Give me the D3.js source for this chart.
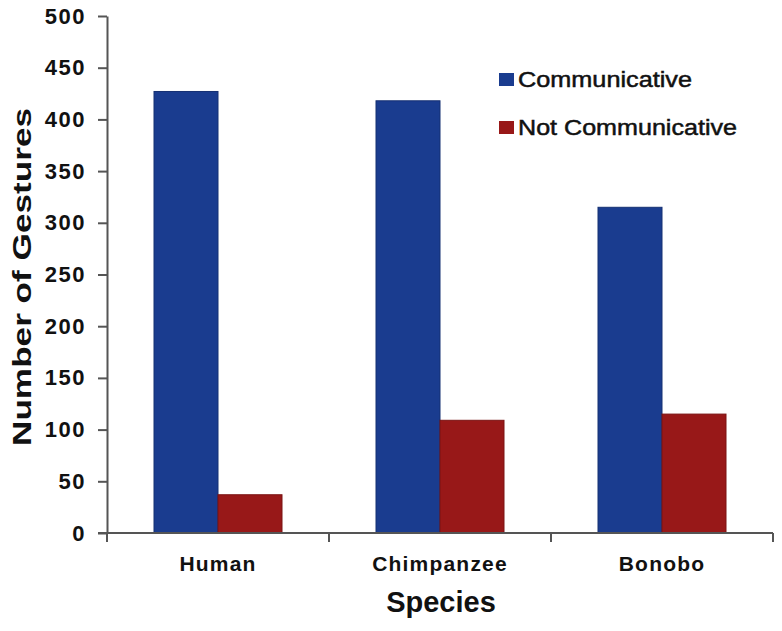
<!DOCTYPE html>
<html><head><meta charset="utf-8">
<script src="https://cdn.jsdelivr.net/npm/d3@7"></script>
<style>body{margin:0;background:#fff}</style>
</head><body>
<svg id="c" width="782" height="631"></svg>
<script>
const categories = ["Human", "Chimpanzee", "Bonobo"];
const seriesNames = ["Communicative", "Not Communicative"];
const communicative = [427, 418, 315];
const notCommunicative = [37, 109, 115];
const yTicks = [0, 50, 100, 150, 200, 250, 300, 350, 400, 450, 500];
const colors = ["#1a3c8f", "#981818"];

(function () {
const svg = d3.select("#c");
const mLeft = 107, mRight = 773, mTop = 16, mBottom = 533;
const font = "Liberation Sans, Arial, sans-serif";

const x = d3.scaleBand().domain(categories).range([mLeft, mRight]).paddingInner(0).paddingOuter(0);
const x1 = d3.scaleBand().domain(seriesNames).range([47, x.bandwidth() - 47]).padding(0);
const y = d3.scaleLinear().domain([0, 500]).range([mBottom, mTop]);

const data = categories.map((c, i) => ({cat: c, vals: [communicative[i], notCommunicative[i]]}));

// bars
const g = svg.append("g");
data.forEach(d => {
  d.vals.forEach((v, j) => {
    g.append("rect")
      .attr("x", x(d.cat) + x1(seriesNames[j]))
      .attr("y", y(v))
      .attr("width", x1.bandwidth())
      .attr("height", y(0) - y(v))
      .attr("fill", colors[j])
      .attr("stroke", d3.color(colors[j]).darker(0.6))
      .attr("stroke-width", 1);
  });
});

// y axis
const yAxis = svg.append("g").attr("transform", `translate(${mLeft},0)`)
  .call(d3.axisLeft(y).tickValues(yTicks).tickSize(9).tickPadding(12).tickSizeOuter(0));
yAxis.select(".domain").attr("stroke", "#555").attr("stroke-width", 2);
yAxis.selectAll(".tick line").attr("stroke", "#555").attr("stroke-width", 2);
yAxis.selectAll(".tick text").attr("font-family", font)
  .attr("font-size", 22).attr("font-weight", "bold").attr("fill", "#111")
  .attr("letter-spacing", "1.5px");

// x axis
const xAxisG = svg.append("g").attr("transform", `translate(0,${mBottom})`);
xAxisG.append("line").attr("x1", mLeft - 9).attr("x2", mRight).attr("y1", 0).attr("y2", 0)
  .attr("stroke", "#555").attr("stroke-width", 2);
const boundaries = categories.map(c => x(c)).concat([x(categories[categories.length - 1]) + x.bandwidth()]);
boundaries.forEach(b => {
  xAxisG.append("line").attr("x1", b).attr("x2", b).attr("y1", 0).attr("y2", 9)
    .attr("stroke", "#555").attr("stroke-width", 2);
});
categories.forEach(c => {
  xAxisG.append("text").attr("x", x(c) + x.bandwidth() / 2).attr("y", 38)
    .attr("text-anchor", "middle")
    .attr("font-family", font)
    .attr("font-size", 21).attr("font-weight", "bold").attr("fill", "#111")
    .attr("letter-spacing", "1.2px")
    .text(c);
});

// axis titles
svg.append("text").attr("x", 441).attr("y", 612).attr("text-anchor", "middle")
  .attr("font-family", font)
  .attr("font-size", 29).attr("font-weight", "bold").attr("fill", "#111")
  .text("Species");
svg.append("text").attr("transform", "translate(31,277) rotate(-90)").attr("text-anchor", "middle")
  .attr("font-family", font)
  .attr("font-size", 26).attr("font-weight", "bold").attr("fill", "#111")
  .attr("textLength", 338).attr("lengthAdjust", "spacingAndGlyphs")
  .text("Number of Gestures");

// legend
const legend = svg.append("g");
const legendLen = [174, 219];
seriesNames.forEach((s, i) => {
  const ly = 79 + i * 48;
  legend.append("rect").attr("x", 499).attr("y", ly - 6).attr("width", 15).attr("height", 13)
    .attr("fill", colors[i]);
  legend.append("text").attr("x", 518).attr("y", ly + 8)
    .attr("font-family", font)
    .attr("font-size", 22).attr("fill", "#111")
    .attr("stroke", "#111").attr("stroke-width", 0.5)
    .attr("textLength", legendLen[i]).attr("lengthAdjust", "spacingAndGlyphs")
    .text(s);
});
})();
</script>
</body></html>
